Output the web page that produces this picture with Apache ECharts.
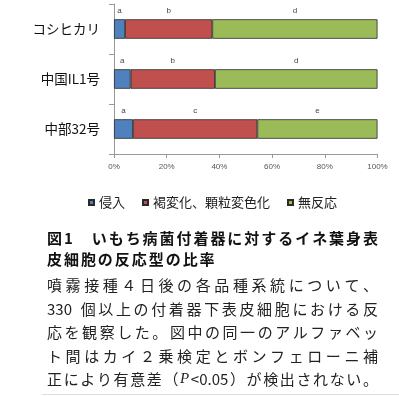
<!DOCTYPE html>
<html>
<head>
<meta charset="utf-8">
<script src="https://cdn.jsdelivr.net/npm/echarts@6/dist/echarts.min.js"></script>
<style>
html,body{margin:0;padding:0;background:#fff;}
#chart{width:399px;height:396px;}
</style>
</head>
<body>
<div id="chart"></div>
<script>
// ---- data ----
const categories = ['コシヒカリ', '中国IL1号', '中部32号'];
const seriesNames = ['侵入', '褐変化、顆粒変色化', '無反応'];
const invasion = [4.2, 6.3, 7.2];
const browning = [33.1, 32.0, 47.2];
const noReaction = [62.7, 61.7, 45.6];
const invasionLetters = ['a', 'a', 'a'];
const browningLetters = ['b', 'b', 'c'];
const noReactionLetters = ['d', 'd', 'e'];
const xTicks = [0, 20, 40, 60, 80, 100];
const titleLines = ['図1　いもち病菌付着器に対するイネ葉身表', '皮細胞の反応型の比率'];
const bodyLines = [
  '噴霧接種４日後の各品種系統について、',
  '330 個以上の付着器下表皮細胞における反',
  '応を観察した。図中の同一のアルファベッ',
  'ト間はカイ２乗検定とボンフェローニ補',
  '正により有意差（P<0.05）が検出されない。'
];

const FAM = '"Noto Sans CJK JP", "Noto Sans", sans-serif';
const colors = ['#4F81BD', '#C0504D', '#9BBB59'];

// ---- text layout helpers (justified lines) ----
const mctx = document.createElement('canvas').getContext('2d');
function tokenize(s) {
  return s.match(/P|[0-9.<]+|[ ]+|./g);
}
function layoutLine(str, opts) {
  const toks = tokenize(str);
  const fonts = toks.map(t => t === 'P' ? ('italic ' + opts.size + 'px "Liberation Serif", serif') : (opts.weight + ' ' + opts.size + 'px ' + FAM));
  const widths = toks.map((t, i) => { mctx.font = fonts[i]; return mctx.measureText(t).width; });
  const sum = widths.reduce((a, b) => a + b, 0);
  const gap = opts.justify ? (opts.x1 - opts.x0 - sum) / (toks.length - 1) : opts.gap;
  let x = opts.x0;
  const els = [];
  toks.forEach((t, i) => {
    if (t.trim() !== '') {
      els.push({
        type: 'text', x: x, y: opts.y,
        style: {
          text: t, font: fonts[i], fill: opts.color,
          textAlign: 'left', textVerticalAlign: 'middle'
        }
      });
    }
    x += widths[i] + gap;
  });
  return { els: els, gap: gap };
}

const graphics = [];
const t1 = layoutLine(titleLines[0], { x0: 47, x1: 378, y: 238, size: 15, weight: 'bold', color: '#111', justify: true });
graphics.push(...t1.els);
graphics.push(...layoutLine(titleLines[1], { x0: 47, y: 259, size: 15, weight: 'bold', color: '#111', justify: false, gap: t1.gap }).els);
const bodyY = [285.5, 309, 332.5, 356, 379.5];
bodyLines.forEach((ln, i) => {
  graphics.push(...layoutLine(ln, { x0: 47, x1: 378, y: bodyY[i], size: 15, weight: 'normal', color: '#222', justify: true }).els);
});
graphics.push({ type: 'line', shape: { x1: 42, y1: 394.5, x2: 399, y2: 394.5 }, style: { stroke: '#dddddd', lineWidth: 1 } });

function barSeries(name, data, letters, color) {
  return {
    name: name, type: 'bar', stack: 'total', data: data, barWidth: 19.5,
    itemStyle: { color: color, borderColor: '#2a2a2a', borderWidth: 0.8 },
    label: {
      show: true, position: 'top', distance: 4, fontSize: 8, color: '#444',
      fontFamily: 'Arial, "Liberation Sans", sans-serif',
      formatter: p => letters[p.dataIndex]
    },
    emphasis: { disabled: true }
  };
}

const chart = echarts.init(document.getElementById('chart'), null, { renderer: 'canvas' });
chart.setOption({
  animation: false,
  backgroundColor: '#fff',
  grid: { left: 114, right: 21.5, top: 4, height: 150, containLabel: false },
  xAxis: {
    type: 'value', min: xTicks[0], max: xTicks[xTicks.length - 1], interval: 20,
    axisLine: { show: true, lineStyle: { color: '#999', width: 1 } },
    axisTick: { show: true, length: 4, lineStyle: { color: '#999' } },
    splitLine: { show: false },
    axisLabel: { formatter: '{value}%', fontSize: 8, color: '#555', margin: 9, fontFamily: 'Arial, "Liberation Sans", sans-serif' }
  },
  yAxis: {
    type: 'category', data: categories, inverse: true,
    axisLine: { show: true, lineStyle: { color: '#999', width: 1 } },
    axisTick: { show: true, length: 5, lineStyle: { color: '#999' } },
    axisLabel: { fontSize: 13.5, color: '#111', margin: 14, fontFamily: FAM }
  },
  legend: {
    data: seriesNames, top: 191, left: 83, icon: 'rect',
    itemWidth: 5, itemHeight: 5, itemGap: 17,
    textStyle: { fontSize: 13, color: '#222', fontFamily: FAM },
    selectedMode: false
  },
  series: [
    barSeries(seriesNames[0], invasion, invasionLetters, colors[0]),
    barSeries(seriesNames[1], browning, browningLetters, colors[1]),
    barSeries(seriesNames[2], noReaction, noReactionLetters, colors[2])
  ],
  graphic: graphics
});
</script>
</body>
</html>
